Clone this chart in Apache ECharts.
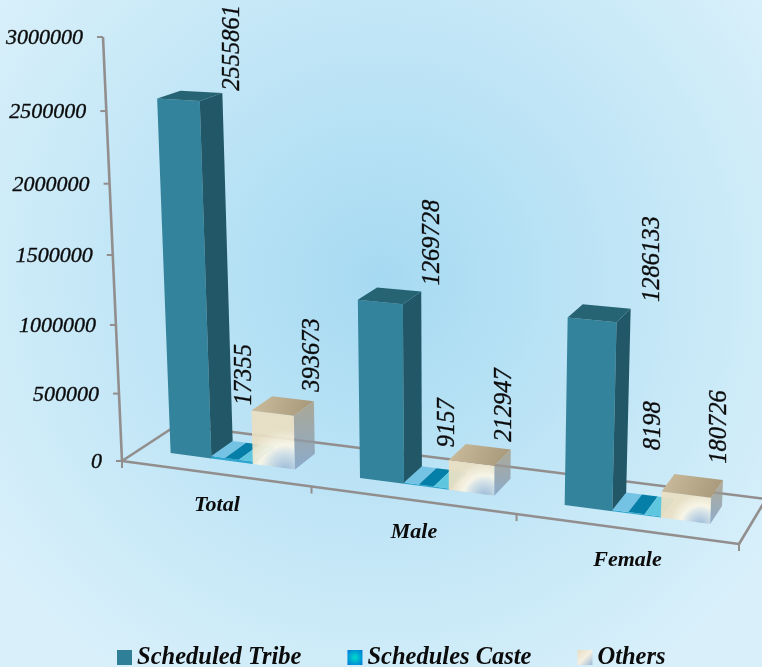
<!DOCTYPE html>
<html>
<head>
<meta charset="utf-8">
<style>html,body{margin:0;padding:0;background:#c8e8f6}#main{width:762px;height:667px}</style>
<script src="https://cdn.jsdelivr.net/npm/echarts@6/dist/echarts.min.js"></script>
</head>
<body>
<div id="main"></div>
<script>
//数据
var categories = ['Total', 'Male', 'Female'];
var scheduledTribe = [2555861, 1269728, 1286133];
var schedulesCaste = [17355, 9157, 8198];
var others = [393673, 212947, 180726];
var yTicks = [0, 500000, 1000000, 1500000, 2000000, 2500000, 3000000];

//透视：地面四角和 y 轴顶点
var O = [122, 461], U = [739, 544], R = [766, 499], D = [177, 425], V = [103, 37], vw = -0.0549;
var dx1 = U[0] - R[0], dx2 = D[0] - R[0], sx = O[0] - U[0] + R[0] - D[0];
var dy1 = U[1] - R[1], dy2 = D[1] - R[1], sy = O[1] - U[1] + R[1] - D[1];
var det = dx1 * dy2 - dx2 * dy1;
var uw = (sx * dy2 - dx2 * sy) / det, dw = (dx1 * sy - sx * dy1) / det;
function project(u, d, v){
  var w = 1 + uw * u + dw * d + vw * v;
  return [
    (O[0] + (U[0] * (1 + uw) - O[0]) * u + (D[0] * (1 + dw) - O[0]) * d + (V[0] * (1 + vw) - O[0]) * v) / w,
    (O[1] + (U[1] * (1 + uw) - O[1]) * u + (D[1] * (1 + dw) - O[1]) * d + (V[1] * (1 + vw) - O[1]) * v) / w
  ];
}
//把隐藏 grid 的像素换成 0-1
function toUV(api, p){
  return [p[0] / api.getWidth(), 1 - p[1] / api.getHeight()];
}

var fontFamily = '"Liberation Serif", serif';
var barShare = 0.2217, groupGap = 0.168, depthFront = 0.32, depthBack = 0.73;

function linear(x, y, x2, y2, stops){
  return new echarts.graphic.LinearGradient(x, y, x2, y2, stops);
}
function radial(x, y, r, stops){
  return new echarts.graphic.RadialGradient(x, y, r, stops);
}
function poly(points, fill, opacity){
  return {type: 'polygon', shape: {points: points}, style: {fill: fill, opacity: opacity === undefined ? 1 : opacity}};
}
function segment(a, b, width){
  return {type: 'line', shape: {x1: a[0], y1: a[1], x2: b[0], y2: b[1]}, style: {stroke: '#928e8e', lineWidth: width || 2.6}};
}
function label(p, text, rotate, size, align, bold){
  return {
    type: 'text', x: p[0], y: p[1], rotation: rotate ? Math.PI / 2 : 0,
    style: {text: text, fontFamily: fontFamily, fontStyle: 'italic', fontWeight: bold ? 'bold' : 'normal', fontSize: size, fill: '#0b0b0b', stroke: bold ? null : '#0b0b0b', lineWidth: bold ? 0 : 0.35, align: align, verticalAlign: 'middle'}
  };
}

//柱子样式
var faces = [
  {
    front: '#32839b', side: '#215767', top: '#266474'
  },
  {
    front: '#2ea5cf', side: '#2a8fb5', top: null
  },
  {
    front: radial(0.78, 1.02, 0.95, [{offset: 0, color: '#97b6d6'}, {offset: 0.42, color: '#d3e0e6'}, {offset: 0.62, color: '#fbf6e6'}, {offset: 1, color: '#eadfc2'}]),
    side: linear(0, 0, 0, 1, [{offset: 0, color: '#a89a7e'}, {offset: 1, color: '#7f9cc0'}]),
    top: linear(0, 0, 1, 1, [{offset: 0, color: '#cdbd9f'}, {offset: 1, color: '#a69678'}]),
    frontOpacity: 0.92, sideOpacity: 0.8
  }
];
//标签相对柱顶中心的偏移
var labelNudge = [
  [[43, -5], [43, -10], [53, -11]],
  [[2, -46], [12, -30], [10, -54]],
  [[30, -14], [25, -13], [27, -22]]
];

function renderBar(seriesIndex){
  return function(params, api){
    var i = api.value(0), val = api.value(1);
    var c = toUV(api, api.coord([i, val]));
    var band = api.size([1, 0])[0] / api.getWidth();
    var u0 = c[0] + (-0.5 + groupGap + seriesIndex * barShare) * band;
    var u1 = u0 + barShare * band;
    var v = c[1], d0 = depthFront, d1 = depthBack, f = faces[seriesIndex];
    var children = [
      poly([project(u0, d0, 0), project(u1, d0, 0), project(u1, d0, v), project(u0, d0, v)], f.front, f.frontOpacity),
      poly([project(u1, d0, 0), project(u1, d1, 0), project(u1, d1, v), project(u1, d0, v)], f.side, f.sideOpacity)
    ];
    if(f.top){
      children.push(poly([project(u0, d0, v), project(u1, d0, v), project(u1, d1, v), project(u0, d1, v)], f.top));
    }else{
      //蓝色柱太矮，只看到顶面的三段
      var w = (u1 - u0) / 3, stripe = ['#74c3e4', '#067fa8', '#5fc6df'];
      for(var k = 0; k < 3; k++){
        children.push(poly([project(u0 + w * k, d0, v), project(u0 + w * (k + 1), d0, v), project(u0 + w * (k + 1), d1, v), project(u0 + w * k, d1, v)], stripe[k]));
      }
    }
    var a = project((u0 + u1) / 2, (d0 + d1) / 2, v), n = labelNudge[seriesIndex][i];
    children.push(label([a[0] + n[0], a[1] + n[1]], String(val), true, 24.5, 'left'));
    return {type: 'group', children: children};
  };
}

//地面和坐标轴
function renderFloor(params, api){
  var band = api.size([1, 0])[0] / api.getWidth();
  var children = [
    segment(project(0, 0, 0), project(1, 0, 0)),
    segment(project(0, 0, 0), project(0, 1, 0)),
    segment(project(0, 1, 0), project(1, 1, 0)),
    segment(project(1, 0, 0), project(1, 1, 0)),
    segment(project(0, 0, 0), project(0, 0, 1))
  ];
  for(var k = 0; k <= categories.length; k++){
    var t = project(k * band, 0, 0);
    children.push(segment(t, [t[0], t[1] + 7], 2));
  }
  return {type: 'group', children: children};
}
function renderTick(params, api){
  var c = toUV(api, api.coord([0, api.value(0)]));
  var t = project(0, 0, c[1]);
  return {type: 'group', children: [
    segment(t, [t[0] - 6, t[1]], 2),
    label([t[0] - 20, t[1] + 1.5], String(api.value(0)), false, 22, 'right')
  ]};
}
function renderCategory(params, api){
  var c = toUV(api, api.coord([api.value(0), 0]));
  var t = project(c[0], 0, 0);
  return label([t[0] + 2, t[1] + 32], categories[api.value(0)], false, 22, 'center', true);
}

function pairs(values){
  return values.map(function(val, i){ return [i, val]; });
}

var chart = echarts.init(document.getElementById('main'));
chart.setOption({
  animation: false,
  backgroundColor: radial(0.5, 0.42, 0.72, [{offset: 0, color: '#a6daf2'}, {offset: 1, color: '#d9f0fa'}]),
  grid: {left: 0, right: 0, top: 0, bottom: 0},
  xAxis: {type: 'category', data: categories, show: false},
  yAxis: {type: 'value', min: 0, max: 3000000, interval: 500000, show: false},
  legend: {
    left: 112, top: 640, itemWidth: 15, itemHeight: 15, itemGap: 46, icon: 'rect',
    data: ['Scheduled Tribe', 'Schedules Caste', 'Others'],
    textStyle: {fontFamily: fontFamily, fontStyle: 'italic', fontWeight: 'bold', fontSize: 24.5, color: '#0b0b0b'}
  },
  series: [
    {type: 'custom', name: 'floor', data: [[0]], renderItem: renderFloor, encode: {x: 0}, z: 1},
    {type: 'custom', name: 'ticks', data: yTicks.map(function(t){ return [t]; }), renderItem: renderTick, encode: {y: 0}, z: 1},
    {type: 'custom', name: 'cats', data: categories.map(function(n, i){ return [i]; }), renderItem: renderCategory, encode: {x: 0}, z: 1},
    {type: 'custom', name: 'Scheduled Tribe', data: pairs(scheduledTribe), renderItem: renderBar(0), encode: {x: 0, y: 1}, itemStyle: {color: '#2f7f99'}, z: 2},
    {type: 'custom', name: 'Schedules Caste', data: pairs(schedulesCaste), renderItem: renderBar(1), encode: {x: 0, y: 1}, itemStyle: {color: radial(0.5, 0.5, 0.7, [{offset: 0, color: '#00dccc'}, {offset: 1, color: '#0074d8'}])}, z: 3},
    {type: 'custom', name: 'Others', data: pairs(others), renderItem: renderBar(2), encode: {x: 0, y: 1}, itemStyle: {color: linear(0, 0, 1, 1, [{offset: 0, color: '#e8dcc0'}, {offset: 0.5, color: '#f4efe2'}, {offset: 1, color: '#9dbad6'}])}, z: 4}
  ]
});
</script>
</body>
</html>
